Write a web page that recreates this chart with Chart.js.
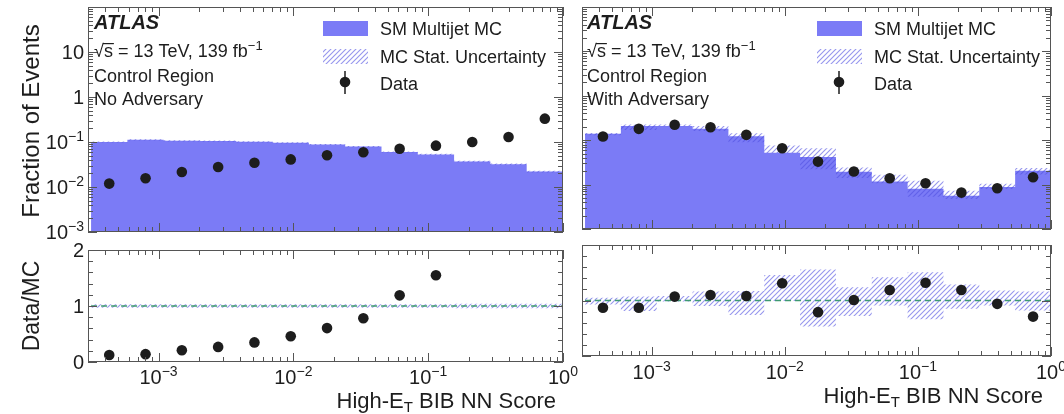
<!DOCTYPE html>
<html lang="en">
<head>
<meta charset="UTF-8">
<title>High-ET BIB NN Score - Control Region, with and without adversary</title>
<script src="https://cdn.jsdelivr.net/npm/chart.js@4.4.1/dist/chart.umd.min.js"></script>
<style>
  body { margin: 0; background: #fff; }
  #wrap { position: relative; width: 1064px; height: 414px; }
  #wrap canvas { position: absolute; left: 0; top: 0; }
</style>
</head>
<body>
<div id="wrap">
  <canvas id="lt" width="1064" height="414"></canvas>
  <canvas id="lb" width="1064" height="414"></canvas>
  <canvas id="rt" width="1064" height="414"></canvas>
  <canvas id="rb" width="1064" height="414"></canvas>
</div>
<script>
// 13 log bins of the NN score, 10^-3.5 .. 1
const binEdges = [3.162e-4, 5.878e-4, 1.093e-3, 2.031e-3, 3.775e-3, 7.017e-3, 0.01304,
                  0.02424, 0.04506, 0.08375, 0.1557, 0.2894, 0.5379, 1];

// no adversary
const mcNoAdv    = [0.100, 0.112, 0.106, 0.105, 0.101, 0.096, 0.088, 0.079, 0.060, 0.053, 0.037, 0.032, 0.022];
const dataNoAdv  = [0.0119, 0.0156, 0.0215, 0.0278, 0.0347, 0.041, 0.0506, 0.059, 0.071, 0.083, 0.100, 0.129, 0.33];
const ratioNoAdv = [0.125, 0.14, 0.21, 0.27, 0.35, 0.46, 0.605, 0.78, 1.19, 1.55, null, null, null];
const uncUpNoAdv = [1.03, 1.03, 1.03, 1.03, 1.03, 1.03, 1.03, 1.03, 1.03, 1.03, 1.04, 1.04, 1.04];
const uncDnNoAdv = [0.97, 0.97, 0.97, 0.97, 0.97, 0.97, 0.97, 0.97, 0.97, 0.97, 0.96, 0.96, 0.96];

// with adversary
const mcAdv    = [0.139, 0.210, 0.210, 0.180, 0.122, 0.052, 0.042, 0.0195, 0.0118, 0.0081, 0.0056, 0.0088, 0.0205];
const dataAdv  = [0.121, 0.180, 0.222, 0.196, 0.132, 0.066, 0.033, 0.0197, 0.0139, 0.0107, 0.0066, 0.0083, 0.0146];
const ratioAdv = [0.87, 0.87, 1.07, 1.10, 1.08, 1.31, 0.79, 1.01, 1.19, 1.32, 1.19, 0.94, 0.71];
const uncUpAdv = [1.05, 1.07, 1.08, 1.16, 1.17, 1.46, 1.56, 1.24, 1.42, 1.51, 1.29, 1.18, 1.16];
const uncDnAdv = [0.93, 0.81, 0.98, 0.90, 0.74, 0.99, 0.53, 0.72, 0.91, 0.66, 0.85, 0.91, 0.82];

// tick labels: [base, exponent]
const xTickVals = [1e-3, 1e-2, 1e-1, 1];
const xTickText = [['10', '\u22123'], ['10', '\u22122'], ['10', '\u22121'], ['10', '0']];
const yTickVals = [1e-3, 1e-2, 1e-1, 1, 10];
const yTickText = [['10', '\u22123'], ['10', '\u22122'], ['10', '\u22121'], ['1', ''], ['10', '']];
const rTickVals = [0, 1, 2];

const FONT = '"Liberation Sans", Arial, Helvetica, sans-serif';
const INK = '#1d1d1d';
const MC_FILL = '#7b7bf6';
const FRAME = '#555';

function hatchPattern(color) {
  const t = document.createElement('canvas');
  t.width = 5; t.height = 5;
  const g = t.getContext('2d');
  g.strokeStyle = color; g.lineWidth = 1.1;
  g.beginPath();
  g.moveTo(-1, 6); g.lineTo(6, -1);
  g.moveTo(-3.5, 3.5); g.lineTo(3.5, -3.5);
  g.moveTo(1.5, 8.5); g.lineTo(8.5, 1.5);
  g.stroke();
  return g.createPattern(t, 'repeat');
}
const HATCH = hatchPattern('rgba(80,80,225,0.6)');

// histogram points on the left bin edges, closed at the last edge
function stepData(vals, factor) {
  const pts = vals.map((v, i) => ({ x: binEdges[i], y: v * (factor ? factor[i] : 1) }));
  pts.push({ x: binEdges[binEdges.length - 1], y: pts[pts.length - 1].y });
  return pts;
}
function pointData(vals) {
  return vals.map((v, i) => ({ x: Math.sqrt(binEdges[i] * binEdges[i + 1]), y: v }));
}

function histSet(pts, fill, bg, order) {
  return { data: pts, stepped: 'before', fill: fill, backgroundColor: bg, borderColor: 'transparent',
           borderWidth: 0, pointRadius: 0, order: order };
}
function dotSet(pts) {
  return { data: pts, showLine: false, pointRadius: 5.3, pointBackgroundColor: INK,
           pointBorderColor: INK, pointBorderWidth: 0, order: 0 };
}

function topSets(mc, data, up, dn) {
  return [
    histSet(stepData(mc), 'start', MC_FILL, 3),
    histSet(stepData(mc, up), '+1', HATCH, 1),
    histSet(stepData(mc, dn), false, 'transparent', 2),
    dotSet(pointData(data))
  ];
}
function ratioSets(ratio, up, dn) {
  return [
    { data: [{ x: binEdges[0], y: 1 }, { x: 1, y: 1 }], borderColor: '#3f9a72', borderWidth: 1.5,
      borderDash: [6, 4], pointRadius: 0, fill: false, order: 1 },
    histSet(stepData(up), '+1', HATCH, 2),
    histSet(stepData(dn), false, 'transparent', 3),
    dotSet(pointData(ratio))
  ];
}

// "10" with a raised exponent; y is the baseline
function powText(ctx, base, exp, x, y, align, size) {
  ctx.font = size + 'px ' + FONT;
  const wb = ctx.measureText(base).width;
  const es = Math.round(size * 0.7);
  ctx.font = es + 'px ' + FONT;
  const we = exp ? ctx.measureText(exp).width : 0;
  const w = wb + we;
  const x0 = align === 'right' ? x - w : align === 'center' ? x - w / 2 : x;
  ctx.textAlign = 'left'; ctx.textBaseline = 'alphabetic';
  ctx.font = size + 'px ' + FONT;
  ctx.fillText(base, x0, y);
  if (exp) { ctx.font = es + 'px ' + FONT; ctx.fillText(exp, x0 + wb, y - size * 0.42); }
}

function frameAndTicks(chart, yLog) {
  const { ctx, chartArea: a, scales: { x, y } } = chart;
  ctx.save();
  ctx.strokeStyle = FRAME; ctx.lineWidth = 1;
  ctx.beginPath();
  for (let d = -4; d <= 0; d++) {
    for (let k = 1; k <= 9; k++) {
      const v = k * Math.pow(10, d);
      if (v < x.min * 0.999 || v > x.max * 1.001) continue;
      const px = Math.round(x.getPixelForValue(v)) + 0.5;
      const len = k === 1 ? 9 : 5;
      ctx.moveTo(px, a.bottom); ctx.lineTo(px, a.bottom - len);
      ctx.moveTo(px, a.top); ctx.lineTo(px, a.top + len);
    }
  }
  const yTicks = [];
  if (yLog) {
    for (let d = -3; d <= 1; d++) for (let k = 1; k <= 9; k++) yTicks.push([k * Math.pow(10, d), k === 1]);
    yTicks.push([100, true]);
  } else {
    for (let i = 0; i <= 10; i++) yTicks.push([i * 0.2, i % 5 === 0]);
  }
  yTicks.forEach(([v, major]) => {
    const py = Math.round(y.getPixelForValue(v)) + 0.5;
    const len = major ? 9 : 5;
    ctx.moveTo(a.left, py); ctx.lineTo(a.left + len, py);
    ctx.moveTo(a.right, py); ctx.lineTo(a.right - len, py);
  });
  ctx.stroke();
  ctx.strokeRect(a.left + 0.5, a.top + 0.5, a.right - a.left - 1, a.bottom - a.top - 1);
  ctx.restore();
}

function atlasBlock(ctx, x, region2) {
  ctx.save();
  ctx.fillStyle = INK; ctx.textAlign = 'left'; ctx.textBaseline = 'alphabetic';
  ctx.font = 'italic bold 20px ' + FONT;
  ctx.fillText('ATLAS', x, 29);
  ctx.font = '18px ' + FONT;
  const wr = ctx.measureText('\u221A').width;
  ctx.fillText('\u221A', x, 57);
  ctx.fillText('s', x + wr, 57);
  const ws = ctx.measureText('s').width;
  ctx.fillRect(x + wr - 1, 57 - 14, ws + 2, 1.2);
  const rest = ' = 13 TeV, 139 fb';
  ctx.fillText(rest, x + wr + ws, 57);
  const wt = ctx.measureText(rest).width;
  ctx.font = '13px ' + FONT;
  ctx.fillText('\u22121', x + wr + ws + wt, 50);
  ctx.font = '18px ' + FONT;
  ctx.fillText('Control Region', x, 82);
  ctx.fillText(region2, x, 105);
  ctx.restore();
}

function legendBlock(ctx, bx, tx) {
  ctx.save();
  ctx.fillStyle = MC_FILL; ctx.fillRect(bx, 21, 45, 15);
  ctx.fillStyle = HATCH; ctx.fillRect(bx, 49, 45, 15);
  ctx.fillStyle = INK;
  ctx.beginPath(); ctx.arc(bx + 22, 82, 5.3, 0, Math.PI * 2); ctx.fill();
  ctx.strokeStyle = INK; ctx.lineWidth = 1.5;
  ctx.beginPath(); ctx.moveTo(bx + 22, 71); ctx.lineTo(bx + 22, 94); ctx.stroke();
  ctx.font = '18px ' + FONT; ctx.textAlign = 'left'; ctx.textBaseline = 'alphabetic';
  ctx.fillText('SM Multijet MC', tx, 35);
  ctx.fillText('MC Stat. Uncertainty', tx, 63);
  ctx.fillText('Data', tx, 90);
  ctx.restore();
}

function xLabels(chart, baseY, titleRight) {
  const { ctx, scales: { x } } = chart;
  ctx.save();
  ctx.fillStyle = INK;
  xTickVals.forEach((v, i) => powText(ctx, xTickText[i][0], xTickText[i][1], x.getPixelForValue(v), baseY, 'center', 20));
  // High-E_T BIB NN Score
  const size = 22;
  ctx.font = size + 'px ' + FONT;
  const p1 = 'High-E', p3 = ' BIB NN Score';
  const w1 = ctx.measureText(p1).width, w3 = ctx.measureText(p3).width;
  ctx.font = '15px ' + FONT;
  const w2 = ctx.measureText('T').width;
  let x0 = titleRight - (w1 + w2 + w3);
  const ty = baseY + 24;
  ctx.textAlign = 'left'; ctx.textBaseline = 'alphabetic';
  ctx.font = size + 'px ' + FONT; ctx.fillText(p1, x0, ty);
  ctx.font = '15px ' + FONT; ctx.fillText('T', x0 + w1, ty + 4);
  ctx.font = size + 'px ' + FONT; ctx.fillText(p3, x0 + w1 + w2, ty);
  ctx.restore();
}

function yTitle(ctx, text, cx, cy, size) {
  ctx.save();
  ctx.fillStyle = INK;
  ctx.translate(cx, cy); ctx.rotate(-Math.PI / 2);
  ctx.font = size + 'px ' + FONT; ctx.textAlign = 'center'; ctx.textBaseline = 'alphabetic';
  ctx.fillText(text, 0, 0);
  ctx.restore();
}

function panel(id, pad, yOpts, datasets, deco) {
  return new Chart(document.getElementById(id), {
    type: 'line',
    data: { datasets: datasets },
    options: {
      responsive: false, animation: false, devicePixelRatio: 1,
      layout: { padding: pad },
      scales: {
        x: { type: 'logarithmic', min: binEdges[0], max: 1, display: false },
        y: Object.assign({ display: false }, yOpts)
      },
      plugins: { legend: { display: false }, tooltip: { enabled: false } }
    },
    plugins: [{ id: 'deco_' + id, afterDraw: deco }]
  });
}

const logY = { type: 'logarithmic', min: 1e-3, max: 100 };
const linY = { type: 'linear', min: 0, max: 2 };

panel('lt', { left: 88, top: 7, right: 501, bottom: 182 }, logY,
  topSets(mcNoAdv, dataNoAdv, uncUpNoAdv, uncDnNoAdv), chart => {
    const { ctx, scales: { y } } = chart;
    frameAndTicks(chart, true);
    ctx.fillStyle = INK;
    yTickVals.forEach((v, i) => powText(ctx, yTickText[i][0], yTickText[i][1], 84, y.getPixelForValue(v) + 7, 'right', 20));
    yTitle(ctx, 'Fraction of Events', 39, 121, 24);
    atlasBlock(ctx, 94, 'No Adversary');
    legendBlock(ctx, 323, 380);
  });

panel('lb', { left: 88, top: 250, right: 501, bottom: 52 }, linY,
  ratioSets(ratioNoAdv, uncUpNoAdv, uncDnNoAdv), chart => {
    const { ctx, scales: { y } } = chart;
    frameAndTicks(chart, false);
    ctx.fillStyle = INK;
    rTickVals.forEach(v => powText(ctx, String(v), '', 84, y.getPixelForValue(v) + 7, 'right', 20));
    yTitle(ctx, 'Data/MC', 39, 306, 23);
    xLabels(chart, 384, 556);
  });

panel('rt', { left: 582, top: 7, right: 13, bottom: 185 }, logY,
  topSets(mcAdv, dataAdv, uncUpAdv, uncDnAdv), chart => {
    frameAndTicks(chart, true);
    atlasBlock(chart.ctx, 587, 'With Adversary');
    legendBlock(chart.ctx, 817, 874);
  });

panel('rb', { left: 582, top: 245, right: 13, bottom: 58 }, linY,
  ratioSets(ratioAdv, uncUpAdv, uncDnAdv), chart => {
    frameAndTicks(chart, false);
    xLabels(chart, 379, 1043);
  });
</script>
</body>
</html>
